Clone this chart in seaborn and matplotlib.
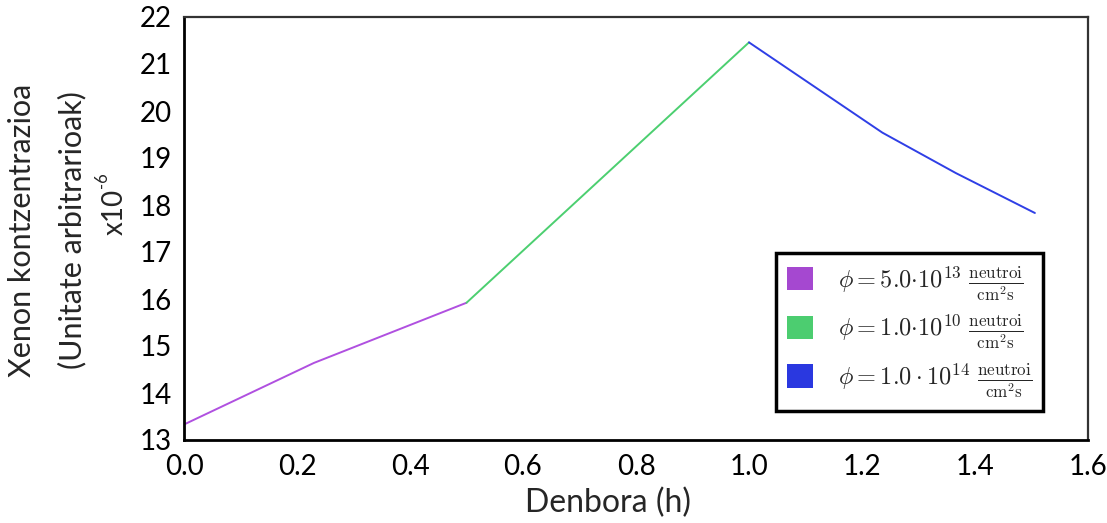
import numpy as np
import pandas as pd
import matplotlib
matplotlib.use("Agg")
import matplotlib.pyplot as plt
from matplotlib.patches import Patch
import seaborn as sns

# ---- data ----
purple_x = [0.0, 0.23, 0.50]
purple_y = [13.33, 14.64, 15.92]
green_x = [0.50, 1.00]
green_y = [15.92, 21.46]
blue_x = [1.00, 1.236, 1.366, 1.506]
blue_y = [21.46, 19.54, 18.68, 17.83]

series_names = ["s1", "s2", "s3"]
legend_labels = [
    r"$\phi = 5.0{\cdot}10^{13}\ \frac{\mathrm{neutroi}}{\mathrm{cm^2s}}$",
    r"$\phi = 1.0{\cdot}10^{10}\ \frac{\mathrm{neutroi}}{\mathrm{cm^2s}}$",
    r"$\phi = 1.0 \cdot 10^{14}\ \frac{\mathrm{neutroi}}{\mathrm{cm^2s}}$",
]
line_colors = ["#b050e0", "#4ccf70", "#2f3fe6"]
patch_colors = ["#a548d0", "#4ccd70", "#2a38e0"]
x_ticks = [0.0, 0.2, 0.4, 0.6, 0.8, 1.0, 1.2, 1.4, 1.6]
y_ticks = [13, 14, 15, 16, 17, 18, 19, 20, 21, 22]

df = pd.concat([
    pd.DataFrame({"t": purple_x, "v": purple_y, "s": series_names[0]}),
    pd.DataFrame({"t": green_x, "v": green_y, "s": series_names[1]}),
    pd.DataFrame({"t": blue_x, "v": blue_y, "s": series_names[2]}),
], ignore_index=True)

sns.set_style("white")
plt.rcParams["font.family"] = ["Lato", "DejaVu Sans"]
plt.rcParams["mathtext.fontset"] = "cm"

fig = plt.figure(figsize=(11.07, 5.23), dpi=100)
ax = fig.add_axes([184 / 1107, 1 - 440 / 523, (1088 - 184) / 1107, (440 - 17) / 523])

sns.lineplot(data=df, x="t", y="v", hue="s", palette=dict(zip(series_names, line_colors)),
             ax=ax, linewidth=1.4, legend=False, estimator=None, sort=False)

ax.set_xlim(0, 1.6)
ax.set_ylim(13, 22)
ax.set_xticks(x_ticks)
ax.set_yticks(y_ticks)
ax.set_xticklabels([f"{v:.1f}" for v in x_ticks], fontsize=20)
ax.set_yticklabels([str(v) for v in y_ticks], fontsize=20)
ax.tick_params(direction="in", length=6, width=1.2, colors="black", pad=9)
ax.tick_params(axis="x", pad=10)

for side in ["left", "bottom"]:
    ax.spines[side].set_color("black")
    ax.spines[side].set_linewidth(2.0)
for side in ["top", "right"]:
    ax.spines[side].set_color("#333333")
    ax.spines[side].set_linewidth(1.6)

ax.set_xlabel("Denbora (h)", fontsize=23)
ax.xaxis.set_label_coords((608 - 184) / 904, -(503 - 440) / 423)
ax.xaxis.label.set_va("center")
ax.set_ylabel("")

fig.text(22 / 1107, 1 - 230 / 523, "Xenon kontzentrazioa", rotation=90, fontsize=22,
         ha="center", va="center")
fig.text(72 / 1107, 1 - 230 / 523, "(Unitate arbitrarioak)", rotation=90, fontsize=22,
         ha="center", va="center")
fig.text(115 / 1107, 1 - 212 / 523, "x10", rotation=90, fontsize=20,
         ha="center", va="center")
fig.text(102 / 1107, 1 - 180 / 523, "-6", rotation=90, fontsize=12,
         ha="center", va="center")

handles = [Patch(facecolor=c, edgecolor="none") for c in patch_colors]
leg = ax.legend(handles, legend_labels, loc="lower right",
                bbox_to_anchor=(0.950, 0.0686), fontsize=17.5, frameon=True,
                fancybox=False, edgecolor="black", framealpha=1,
                handlelength=1.1, handleheight=1.1, handletextpad=1.0,
                labelspacing=0.4, borderpad=0.45, borderaxespad=0)
leg.get_frame().set_linewidth(2.5)

fig.savefig("out.png", dpi=100)
